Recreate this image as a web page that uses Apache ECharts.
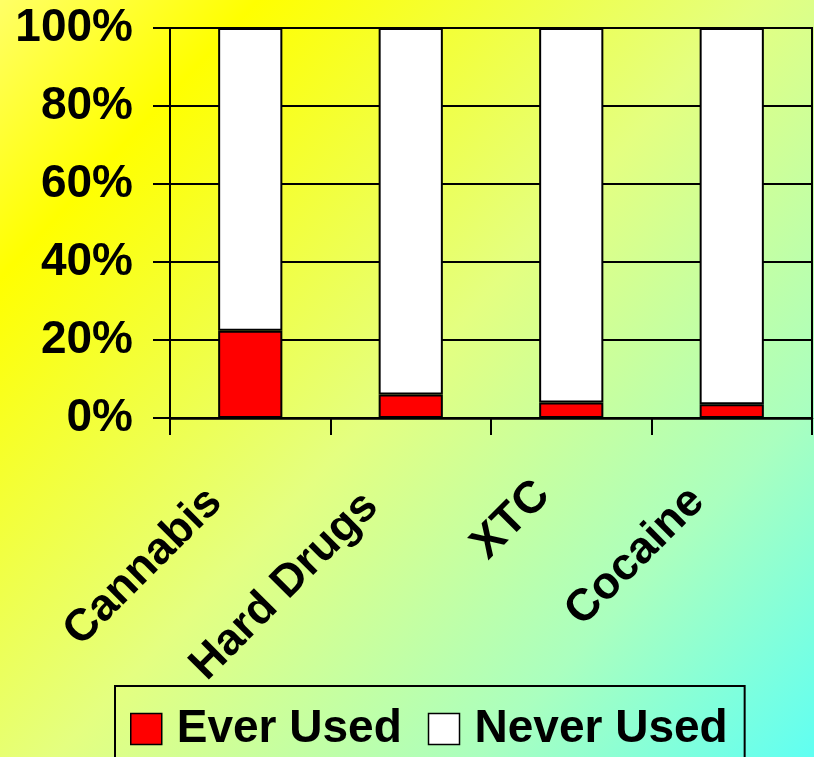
<!DOCTYPE html>
<html>
<head>
<meta charset="utf-8">
<script src="https://cdn.jsdelivr.net/npm/echarts@6/dist/echarts.min.js"></script>
<style>
  html, body { margin: 0; padding: 0; }
  #chart { width: 814px; height: 757px; }
</style>
</head>
<body>
<div id="chart"></div>
<script>
// Share of respondents who have ever / never used each substance (%)
const categories = ['Cannabis', 'Hard Drugs', 'XTC', 'Cocaine'];
const everUsed = [22.4, 6.0, 4.0, 3.5];
const neverUsed = [77.6, 94.0, 96.0, 96.5];
const yTicks = [0, 20, 40, 60, 80, 100];

const FONT = '"Liberation Sans", Arial, Helvetica, sans-serif';
const black = '#000000';

// Pull each slanted label back along its own direction so its end sits left of the tick
const labelPull = { 'Cannabis': 50, 'Hard Drugs': 56, 'XTC': 40, 'Cocaine': 49 };

const chart = echarts.init(document.getElementById('chart'), null, { renderer: 'canvas' });

chart.setOption({
  animation: false,
  backgroundColor: new echarts.graphic.LinearGradient(0, 0, 1, 1, [
    { offset: 0, color: '#ffff66' },
    { offset: 0.17, color: '#ffff00' },
    { offset: 0.5, color: '#e4ff80' },
    { offset: 0.78, color: '#aaffbf' },
    { offset: 1, color: '#60fff2' }
  ]),
  grid: {
    left: 170, right: 2, top: 28, bottom: 339,
    show: true, borderColor: black, borderWidth: 2, backgroundColor: 'transparent'
  },
  legend: {
    data: ['Ever Used', 'Never Used'],
    left: 115, top: 686,
    orient: 'horizontal',
    borderColor: black, borderWidth: 2,
    padding: [20, 17, 40, 15],
    itemWidth: 31, itemHeight: 31, itemGap: 26,
    icon: 'rect',
    itemStyle: { borderColor: black, borderWidth: 1.5 },
    textStyle: { fontFamily: FONT, fontSize: 46, fontWeight: 'bold', color: black, padding: [0, 0, 0, 10] }
  },
  xAxis: {
    type: 'category',
    data: categories.map(c => ({
      value: c,
      textStyle: { padding: [0, labelPull[c], 0, 0] }
    })),
    boundaryGap: true,
    axisLine: { show: true, lineStyle: { color: black, width: 2.5 } },
    axisTick: { show: true, length: 17, lineStyle: { color: black, width: 2 } },
    axisLabel: {
      rotate: 45, margin: 42, interval: 0,
      fontFamily: FONT, fontSize: 45, fontWeight: 'bold', color: black
    }
  },
  yAxis: {
    type: 'value',
    min: yTicks[0], max: yTicks[yTicks.length - 1], interval: 20,
    axisLine: { show: true, lineStyle: { color: black, width: 2 } },
    axisTick: { show: true, length: 17, lineStyle: { color: black, width: 2 } },
    splitLine: { show: true, lineStyle: { color: black, width: 2 } },
    axisLabel: {
      margin: 37,
      formatter: '{value}%',
      fontFamily: FONT, fontSize: 46, fontWeight: 'bold', color: black
    }
  },
  series: [
    {
      name: 'Ever Used', type: 'bar', stack: 'use', barWidth: '40%',
      data: everUsed,
      itemStyle: { color: '#ff0000', borderColor: black, borderWidth: 2 }
    },
    {
      name: 'Never Used', type: 'bar', stack: 'use', barWidth: '40%',
      data: neverUsed,
      itemStyle: { color: '#ffffff', borderColor: black, borderWidth: 2 }
    }
  ]
});
</script>
</body>
</html>
